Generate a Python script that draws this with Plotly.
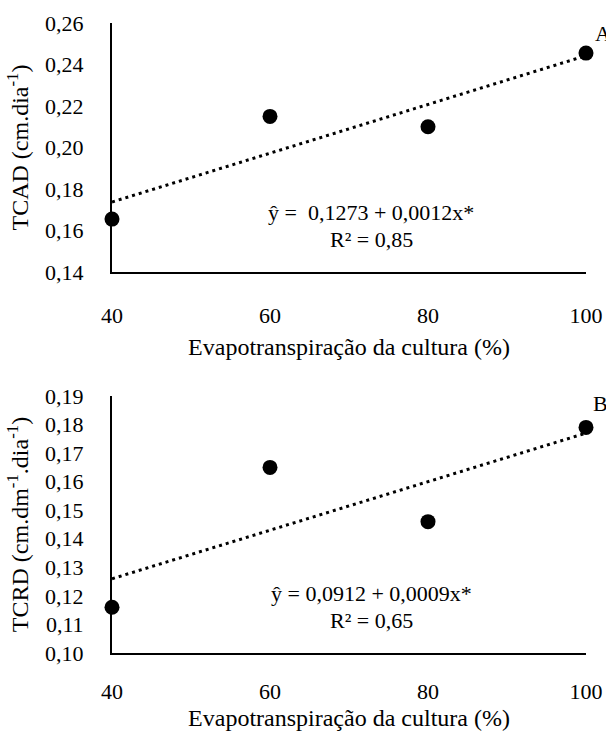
import numpy as np
import plotly.graph_objects as go

etc = [40, 60, 80, 100]
tcad = [0.1655, 0.215, 0.210, 0.2455]
tcrd = [0.116, 0.165, 0.146, 0.179]
x_ticks = [40, 60, 80, 100]
tcad_ticks = [0.14, 0.16, 0.18, 0.20, 0.22, 0.24, 0.26]
tcrd_ticks = [0.10, 0.11, 0.12, 0.13, 0.14, 0.15, 0.16, 0.17, 0.18, 0.19]

FONT = "Liberation Serif"
FS = 22
FT = 24

def fmt(v, d):
    return f"{v:.{d}f}".replace(".", ",")

fig = go.Figure()

def add_panel(xs, ys, xa, ya):
    b, a = np.polyfit(xs, ys, 1)
    xl = [xs[0], xs[-1]]
    yl = [a + b * xs[0], a + b * xs[-1]]
    fig.add_trace(go.Scatter(x=xl, y=yl, mode="lines", xaxis=xa, yaxis=ya,
                             line=dict(color="black", width=3, dash="3px,4px"),
                             showlegend=False, hoverinfo="skip"))
    fig.add_trace(go.Scatter(x=xs, y=ys, mode="markers", xaxis=xa, yaxis=ya,
                             marker=dict(color="black", size=15),
                             cliponaxis=False, showlegend=False))

add_panel(etc, tcad, "x", "y")
add_panel(etc, tcrd, "x2", "y2")

tf = dict(family=FONT, size=FS, color="black")
ttf = dict(family=FONT, size=FT, color="black")
axis_common = dict(showgrid=False, zeroline=False, showline=True, linecolor="black",
                   linewidth=2, ticks="", tickfont=tf, automargin=False)

# plot-area pixel frames (from a 606x731 page)
X0, X1 = 112, 586
T_TOP, T_BOT = 23, 272
B_TOP, B_BOT = 396, 653
W, H = 606, 731

fig.update_layout(
    width=W, height=H,
    margin=dict(l=0, r=0, t=0, b=0),
    paper_bgcolor="white", plot_bgcolor="white",
    font=dict(family=FONT, color="black", size=FS),
    xaxis=dict(domain=[X0 / W, X1 / W], range=[40, 100], anchor="y",
               tickvals=x_ticks, ticktext=[str(v) for v in x_ticks],
               ticklabelstandoff=23,
               title=dict(text="Evapotranspiração da cultura (%)", font=ttf, standoff=11),
               **axis_common),
    yaxis=dict(domain=[1 - T_BOT / H, 1 - T_TOP / H], range=[0.14, 0.26], anchor="x",
               tickvals=tcad_ticks, ticktext=[fmt(v, 2) for v in tcad_ticks],
               ticklabelstandoff=22,
               title=dict(text="TCAD (cm.dia<sup>-1</sup>)", font=ttf, standoff=10),
               **axis_common),
    xaxis2=dict(domain=[X0 / W, X1 / W], range=[40, 100], anchor="y2",
                tickvals=x_ticks, ticktext=[str(v) for v in x_ticks],
                ticklabelstandoff=18,
                title=dict(text="Evapotranspiração da cultura (%)", font=ttf, standoff=9),
                **axis_common),
    yaxis2=dict(domain=[1 - B_BOT / H, 1 - B_TOP / H], range=[0.10, 0.19], anchor="x2",
                tickvals=tcrd_ticks, ticktext=[fmt(v, 2) for v in tcrd_ticks],
                ticklabelstandoff=22,
                title=dict(text="TCRD (cm.dm<sup>-1</sup>.dia<sup>-1</sup>)", font=ttf, standoff=10),
                **axis_common),
)

fig.add_annotation(x=72.8, y=0.1688, xref="x", yref="y", text="ŷ =  0,1273 + 0,0012x*", showarrow=False, font=tf)
fig.add_annotation(x=72.8, y=0.1558, xref="x", yref="y", text="R² = 0,85", showarrow=False, font=tf)
fig.add_annotation(x=593 / W, y=1 - 33 / H, xref="paper", yref="paper", text="A", showarrow=False, font=tf,
                   xanchor="left", yanchor="middle")
fig.add_annotation(x=72.8, y=0.1208, xref="x2", yref="y2", text="ŷ = 0,0912 + 0,0009x*", showarrow=False, font=tf)
fig.add_annotation(x=72.8, y=0.1114, xref="x2", yref="y2", text="R² = 0,65", showarrow=False, font=tf)
fig.add_annotation(x=591 / W, y=1 - 403 / H, xref="paper", yref="paper", text="B", showarrow=False, font=tf,
                   xanchor="left", yanchor="middle")

fig.write_html("out.html", config={"displayModeBar": False},
               post_script="document.body.style.margin='0';")
